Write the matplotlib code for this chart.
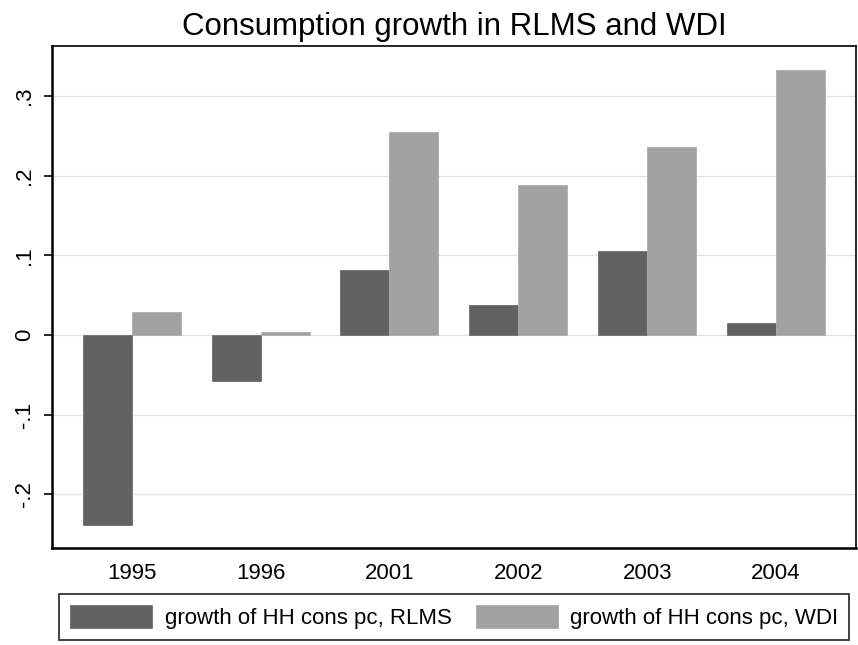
import matplotlib

matplotlib.use("Agg")
import matplotlib.pyplot as plt
import numpy as np

# Данные
years = ["1995", "1996", "2001", "2002", "2003", "2004"]
rlms = [-0.238, -0.0577, 0.0816, 0.0376, 0.1058, 0.0154]
wdi = [0.0292, 0.0034, 0.2543, 0.1882, 0.2363, 0.3325]
y_ticks = [-0.2, -0.1, 0.0, 0.1, 0.2, 0.3]
y_labels = ["-.2", "-.1", "0", ".1", ".2", ".3"]
legend_labels = ["growth of HH cons pc, RLMS", "growth of HH cons pc, WDI"]

plt.rcParams["font.family"] = ["Liberation Sans", "DejaVu Sans"]

DARK = "#626262"
LIGHT = "#a2a2a2"

fig = plt.figure(figsize=(8.58, 6.45), dpi=100)
ax = fig.add_axes([0.0603, 0.1504, 0.9374, 0.7783])

x = np.arange(len(years))
width = 0.38
b1 = ax.bar(x - width / 2, rlms, width, color=DARK, edgecolor="#6e6e6e", linewidth=0.6, zorder=2)
b2 = ax.bar(x + width / 2, wdi, width, color=LIGHT, edgecolor="#adadad", linewidth=0.6, zorder=2)

ax.set_xlim(-0.62, 5.62)
ax.set_ylim(-0.2673, 0.3626)
ax.set_xticks(x)
ax.set_xticklabels(years, fontsize=16)
ax.set_yticks(y_ticks)
ax.set_yticklabels(y_labels, fontsize=16, rotation=90, va="center")
ax.tick_params(axis="x", length=0, pad=11)
ax.tick_params(axis="y", length=6, width=1.2, pad=6)
ax.yaxis.grid(True, color="#e2e2e2", linewidth=1.0, zorder=0)
ax.set_axisbelow(True)

for side in ("left", "bottom"):
    ax.spines[side].set_linewidth(1.8)
for side in ("top", "right"):
    ax.spines[side].set_linewidth(1.2)

ax.set_title("Consumption growth in RLMS and WDI", fontsize=22.5, pad=8)

fig.legend(
    [b1, b2], legend_labels,
    loc="lower left",
    bbox_to_anchor=(0.0688, 0.0078, 0.921, 0.0698),
    mode="expand", ncol=2, fontsize=16,
    frameon=True, fancybox=False, edgecolor="black",
    handlelength=3.7, handleheight=1.2, handletextpad=0.55,
    borderaxespad=0, borderpad=0.5, columnspacing=1.0,
)
fig.legends[0].get_frame().set_linewidth(1.3)

fig.savefig("out.png", dpi=100)
